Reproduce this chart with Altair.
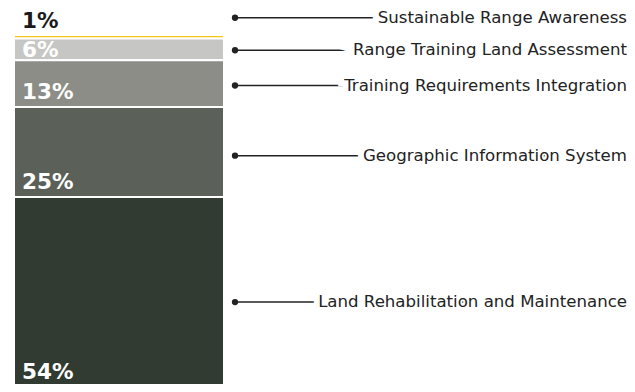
import altair as alt
import pandas as pd

categories = [
    "Sustainable Range Awareness",
    "Range Training Land Assessment",
    "Training Requirements Integration",
    "Geographic Information System",
    "Land Rehabilitation and Maintenance",
]
percents = [1, 6, 13, 25, 54]
colors = ["#f7c614", "#c6c7c4", "#8b8d86", "#5b6158", "#323b31"]
label_colors = ["#1a1a1a", "#ffffff", "#ffffff", "#ffffff", "#ffffff"]

df = pd.DataFrame({
    "category": categories,
    "pct": percents,
    "color": colors,
    "lcolor": label_colors,
    "idx": list(range(len(categories))),
    "label": [f"{p}%" for p in percents],
})

base = alt.Chart(df).transform_stack(
    stack="pct", groupby=[], as_=["start", "end"],
    sort=[alt.SortField("idx", order="descending")],
).transform_calculate(
    ly="datum.end - datum.start < 3 ? datum.end + 4.8 : datum.start + 0.46 * (datum.end - datum.start)",
    py="datum.end - datum.start < 3 ? datum.end + 1.9 : max(min(datum.start + 2.2, datum.end - 5), 3.4)",
)

yscale = alt.Scale(domain=[2.1, 105.39], nice=False, zero=False)

bars = base.mark_rect(stroke="white", strokeWidth=2).encode(
    x=alt.value(6), x2=alt.value(216),
    y=alt.Y("start:Q", scale=yscale, axis=None), y2="end:Q",
    color=alt.Color("color:N", scale=None),
)

pct_text = base.mark_text(align="left", baseline="alphabetic", font="DejaVu Sans",
                          fontWeight="bold", fontSize=21.5).encode(
    x=alt.value(14),
    y=alt.Y("py:Q", scale=yscale, axis=None),
    text="label:N",
    color=alt.Color("lcolor:N", scale=None),
)

rules = base.mark_rule(color="#222222", strokeWidth=1.5).encode(
    x=alt.value(227), x2=alt.value(600),
    y=alt.Y("ly:Q", scale=yscale, axis=None),
)

dots = base.mark_point(filled=True, shape="circle", size=40, color="#222222", opacity=1).encode(
    x=alt.value(227),
    y=alt.Y("ly:Q", scale=yscale, axis=None),
)

halo = base.mark_text(align="right", baseline="middle", font="DejaVu Sans", fontSize=16.6,
                      stroke="white", strokeWidth=12, fill="white").encode(
    x=alt.value(619),
    y=alt.Y("ly:Q", scale=yscale, axis=None),
    text="category:N",
)

names = base.mark_text(align="right", baseline="middle", font="DejaVu Sans", fontSize=16.6,
                       color="#222222").encode(
    x=alt.value(619),
    y=alt.Y("ly:Q", scale=yscale, axis=None),
    text="category:N",
)

chart = alt.layer(bars, pct_text, rules, dots, halo, names).properties(
    width=619, height=372,
    padding={"top": 4, "left": 0, "right": 0, "bottom": 0},
    autosize=alt.AutoSizeParams(type="none"),
).configure_view(stroke=None)

chart.save("out.html", embed_options={"renderer": "svg", "actions": False})
